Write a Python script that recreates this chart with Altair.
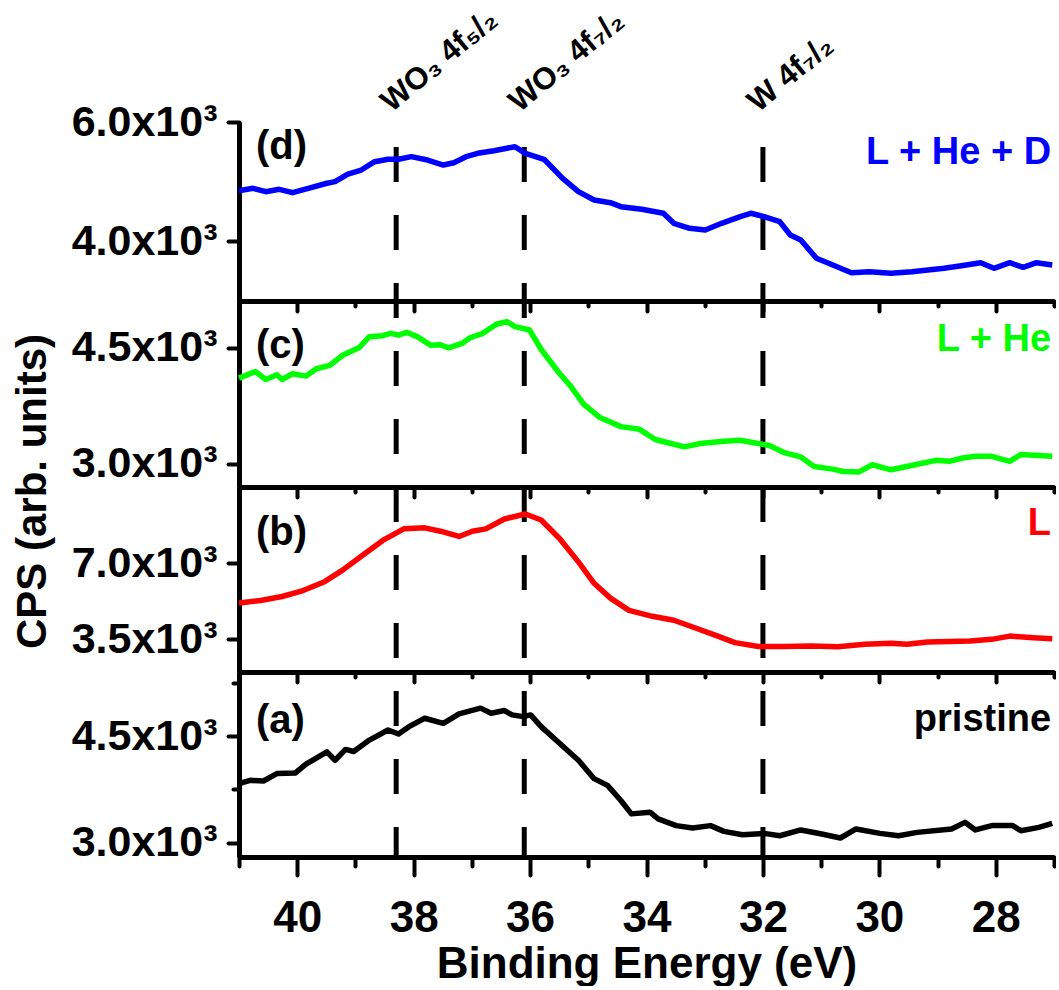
import altair as alt
import pandas as pd

# ---- W 4f spectra: binding energy (eV) and counts per second ----
energy_d = [41.0, 40.76, 40.54, 40.31, 40.08, 39.81, 39.49, 39.35, 39.13, 38.90, 38.67, 38.44,
            38.26, 38.04, 37.76, 37.49, 37.31, 37.10, 36.90, 36.62, 36.26, 36.08, 35.76, 35.44,
            35.17, 34.90, 34.62, 34.44, 34.08, 33.71, 33.53, 33.26, 32.99, 32.71, 32.39, 32.21,
            31.98, 31.71, 31.53, 31.35, 31.08, 30.80, 30.48, 30.17, 29.80, 29.44, 28.89, 28.62,
            28.26, 28.03, 27.76, 27.53, 27.30, 27.03]
cps_d = [4849, 4889, 4832, 4872, 4815, 4889, 4973, 5000, 5128, 5195, 5335, 5375,
         5375, 5419, 5363, 5279, 5318, 5419, 5475, 5519, 5586, 5475, 5375, 5056,
         4832, 4693, 4648, 4581, 4537, 4470, 4302, 4218, 4190, 4302, 4413, 4470,
         4413, 4329, 4106, 4022, 3716, 3603, 3474, 3491, 3464, 3491, 3548, 3586,
         3642, 3548, 3642, 3564, 3642, 3603]

energy_c = [41.0, 40.72, 40.54, 40.35, 40.26, 40.08, 39.85, 39.67, 39.44, 39.22, 38.94, 38.76,
            38.53, 38.40, 38.26, 38.12, 37.94, 37.71, 37.54, 37.40, 37.17, 37.03, 36.81, 36.58,
            36.40, 36.26, 36.01, 35.80, 35.49, 35.31, 35.08, 34.80, 34.44, 34.12, 33.85, 33.58,
            33.35, 33.08, 32.67, 32.39, 32.08, 31.89, 31.62, 31.35, 31.12, 30.80, 30.62, 30.35,
            30.12, 29.80, 29.53, 29.03, 28.80, 28.57, 28.35, 28.07, 27.76, 27.57, 27.35, 27.03]
cps_c = [4105, 4191, 4087, 4148, 4087, 4161, 4131, 4226, 4269, 4400, 4496, 4640,
         4653, 4683, 4660, 4696, 4640, 4530, 4535, 4496, 4552, 4626, 4683, 4800,
         4835, 4770, 4726, 4465, 4161, 4008, 3770, 3596, 3479, 3444, 3313, 3261,
         3218, 3261, 3291, 3304, 3261, 3235, 3140, 3088, 2965, 2931, 2900, 2895,
         2987, 2922, 2965, 3044, 3031, 3074, 3096, 3096, 3031, 3118, 3109, 3096]

energy_b = [41.0, 40.63, 40.26, 39.90, 39.53, 39.22, 38.90, 38.53, 38.17, 37.81, 37.54, 37.22,
            36.99, 36.76, 36.44, 36.08, 35.81, 35.49, 35.17, 34.90, 34.62, 34.30, 33.90, 33.53,
            33.17, 32.81, 32.48, 32.08, 31.62, 31.17, 30.71, 30.25, 29.80, 29.53, 29.17, 28.44,
            28.07, 27.76, 27.35, 27.03]
cps_b = [5168, 5287, 5468, 5741, 6150, 6682, 7318, 8045, 8577, 8623, 8468, 8227,
         8468, 8577, 9032, 9259, 8986, 8123, 7059, 6077, 5395, 4832, 4559, 4377,
         4032, 3682, 3350, 3168, 3168, 3196, 3155, 3273, 3318, 3273, 3377, 3423,
         3500, 3650, 3577, 3532]

energy_a = [41.0, 40.81, 40.58, 40.35, 40.03, 39.85, 39.49, 39.35, 39.17, 39.03, 38.76, 38.44,
            38.26, 38.08, 37.81, 37.49, 37.22, 36.85, 36.67, 36.44, 36.31, 36.12, 35.99, 35.81,
            35.49, 35.17, 34.90, 34.67, 34.44, 34.26, 33.94, 33.80, 33.49, 33.21, 32.90, 32.67,
            32.35, 31.98, 31.71, 31.35, 30.99, 30.67, 30.40, 29.99, 29.67, 29.35, 28.76, 28.53,
            28.35, 28.07, 27.71, 27.57, 27.26, 27.03]
cps_a = [3831, 3877, 3868, 3972, 3981, 4104, 4278, 4160, 4312, 4283, 4443, 4585,
         4528, 4632, 4750, 4679, 4811, 4892, 4821, 4858, 4797, 4773, 4797, 4632,
         4396, 4160, 3901, 3807, 3594, 3406, 3429, 3335, 3241, 3208, 3241, 3160,
         3113, 3132, 3099, 3180, 3123, 3067, 3194, 3132, 3099, 3146, 3194, 3287,
         3180, 3241, 3241, 3170, 3217, 3273]

# reference peak positions and their labels
peak_energy = [38.3, 36.1, 32.0]
peak_label = ["WO₃ 4f₅/₂", "WO₃ 4f₇/₂", "W 4f₇/₂"]

x_ticks = list(range(27, 42))
FONT = "Liberation Sans"
PLOT_W = 815


def y_label_expr(major_step=None):
    text = "format(datum.value / 1000, '.1f') + 'x10³'"
    if major_step is None:
        return text
    return f"datum.value % {major_step} === 0 ? {text} : ''"


def make_panel(energy, cps, color, y_domain, y_ticks, height, tag, tag_y, sample, sample_y,
               rule_top, dash_offset, tick_major, tick_minor, bottom=False,
               y_title=None, major_step=None, annotate=False):
    x_scale = alt.Scale(domain=[27, 41], reverse=True, nice=False, zero=False)
    y_scale = alt.Scale(domain=y_domain, nice=False, zero=False)

    x_axis = alt.Axis(
        values=x_ticks, grid=False,
        title="Binding Energy (eV)" if bottom else None,
        labels=bottom,
        labelExpr="datum.value % 2 === 0 ? datum.value : ''",
        labelFontSize=44, labelPadding=21,
        titleFontSize=44, titlePadding=2,
        tickSize={"condition": {"test": "datum.value % 2 === 0", "value": tick_major},
                  "value": tick_minor},
    )
    y_kwargs = dict(
        values=y_ticks, grid=False, labelExpr=y_label_expr(major_step),
        labelFontSize=43, labelPadding=11, labelBaseline="middle",
    )
    if major_step is not None:
        y_kwargs["tickSize"] = {"condition": {"test": f"datum.value % {major_step} === 0",
                                              "value": 11}, "value": 6}
    else:
        y_kwargs["tickSize"] = 11
    if y_title:
        y_kwargs.update(title=y_title, titleFontSize=42, titleAngle=270,
                        titleX=-207, titleY=4, titleAlign="center",
                        titleBaseline="middle")
    else:
        y_kwargs["title"] = None
    y_axis = alt.Axis(**y_kwargs)

    spectrum = alt.Chart(pd.DataFrame({"E": energy, "cps": cps})).mark_line(
        color=color, strokeWidth=5.5, strokeJoin="round"
    ).encode(
        x=alt.X("E:Q", scale=x_scale, axis=x_axis),
        y=alt.Y("cps:Q", scale=y_scale, axis=y_axis),
    )

    rules = alt.Chart(pd.DataFrame({
        "E": peak_energy,
        "cps": [rule_top] * len(peak_energy),
        "cps2": [y_domain[0]] * len(peak_energy),
    })).mark_rule(
        color="black", strokeWidth=5, strokeDash=[35, 33], strokeDashOffset=dash_offset
    ).encode(x="E:Q", y="cps:Q", y2="cps2:Q")

    tag_text = alt.Chart(pd.DataFrame({"E": [40.71], "cps": [tag_y], "t": [tag]})).mark_text(
        align="left", baseline="middle", font=FONT, fontSize=40, fontWeight="bold",
        color="black"
    ).encode(x="E:Q", y="cps:Q", text="t:N")

    sample_text = alt.Chart(pd.DataFrame({"E": [27.05], "cps": [sample_y], "t": [sample]})).mark_text(
        align="right", baseline="middle", font=FONT, fontSize=38, fontWeight="bold",
        color=color
    ).encode(x="E:Q", y="cps:Q", text="t:N")

    layers = [rules, spectrum, tag_text, sample_text]
    if annotate:
        peaks = alt.Chart(pd.DataFrame({
            "E": [e + 0.08 for e in peak_energy],
            "cps": [6150] * len(peak_energy),
            "t": peak_label,
        })).mark_text(
            align="left", baseline="alphabetic", angle=320, font=FONT, fontSize=31,
            fontWeight="bold", color="black"
        ).encode(x="E:Q", y="cps:Q", text="t:N")
        layers.append(peaks)

    return alt.layer(*layers).properties(width=PLOT_W, height=height)


panel_d = make_panel(energy_d, cps_d, "#0000FF", [3000, 6000], [4000, 6000], 179,
                     "(d)", 5573, "L + He + D", 5480, 5581, 0, 10, 5, annotate=True)
panel_c = make_panel(energy_c, cps_c, "#00FF00", [2700, 5100], [3000, 4500], 186,
                     "(c)", 4520, "L + He", 4591, 5100, 18, 10, 5)
panel_b = make_panel(energy_b, cps_b, "#FF0000", [2000, 10500], [3500, 7000], 185,
                     "(b)", 8409, "L", 8818, 10500, 0, 10, 5, y_title="CPS (arb. units)")
panel_a = make_panel(energy_a, cps_a, "#000000", [2800, 5400], [3000, 3750, 4500, 5250], 185,
                     "(a)", 4712, "pristine", 4726, 5400, 49, 18, 9, bottom=True,
                     major_step=1500)

chart = alt.vconcat(
    panel_d, panel_c, panel_b, panel_a, spacing=0, bounds="flush"
).resolve_scale(
    x="independent", y="independent"
).configure_view(
    stroke=None
).configure_axis(
    domainColor="black", tickColor="black", labelColor="black", titleColor="black",
    labelFont=FONT, titleFont=FONT, labelFontWeight="bold", titleFontWeight="bold",
    domainWidth=5, tickWidth=4, tickCap="round",
).properties(
    padding={"left": 10, "top": 3, "right": 0, "bottom": 0},
    background="white",
)

chart.save("out.html", embed_options={"renderer": "svg", "actions": False})
